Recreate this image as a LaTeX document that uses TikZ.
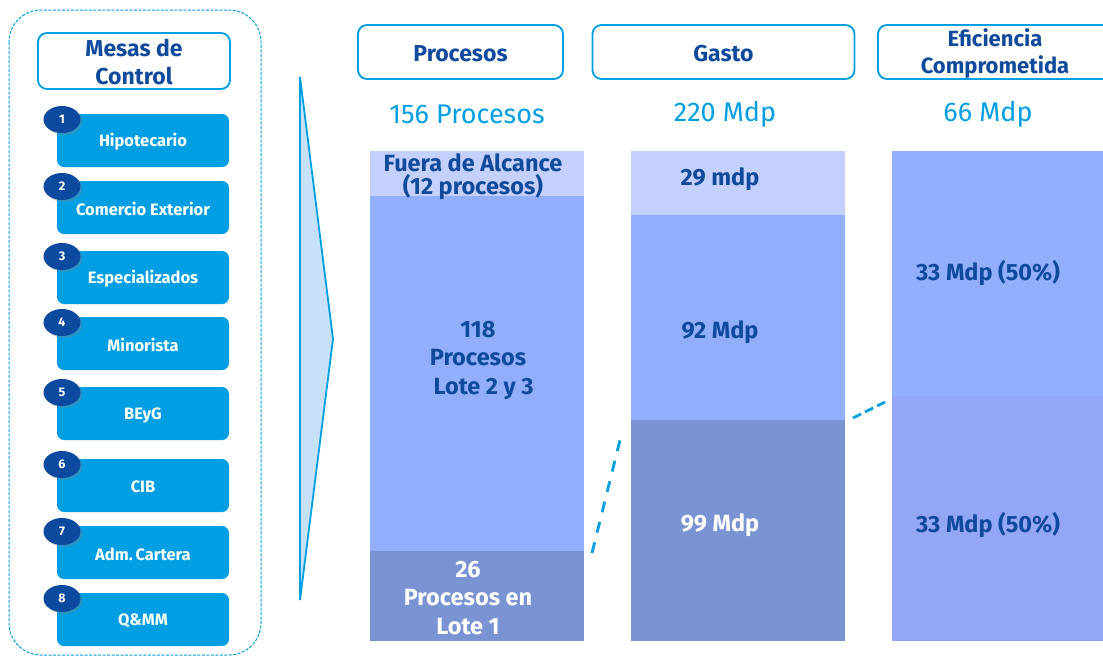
\documentclass[tikz,border=0pt]{standalone}
\usepackage{fontspec}
\setmainfont{Fira Sans}
\usetikzlibrary{shapes.geometric,shadows}
\definecolor{cyanb}{HTML}{009FE3}
\definecolor{navy}{HTML}{0B4A9E}
\definecolor{txtb}{HTML}{0F4A9C}
\definecolor{segL}{HTML}{C4D0FE}
\definecolor{segM}{HTML}{92AFFE}
\definecolor{segD}{HTML}{7A93D2}
\definecolor{segV}{HTML}{94A6F6}
\definecolor{arrowfill}{HTML}{C7E1F9}
\tikzset{
  mesa/.style={fill=cyanb, rounded corners=7pt, minimum width=172pt, minimum height=53pt, inner sep=0pt, text=white, font=\bfseries\fontsize{16.5}{18}\selectfont},
  badge/.style={ellipse, fill=navy, minimum width=37pt, minimum height=27pt, inner sep=0pt, text=white, font=\bfseries\fontsize{12.5}{13}\selectfont, drop shadow={shadow xshift=2pt, shadow yshift=-2pt, opacity=0.35}},
  header/.style={draw=cyanb, line width=1.8pt, rounded corners=9pt, fill=white, inner sep=0pt, text=txtb, font=\bfseries\fontsize{23}{25}\selectfont, align=center},
  total/.style={text=cyanb, font=\fontsize{27}{29}\selectfont},
  bartxt/.style={text=txtb, font=\bfseries\fontsize{23.5}{28.5}\selectfont, align=center},
  bartxtw/.style={text=white, font=\bfseries\fontsize{23.5}{28.5}\selectfont, align=center},
  linkA/.style={draw=cyanb, line width=2.8pt, dash pattern=on 11pt off 10pt},
  linkB/.style={draw=cyanb, line width=2.8pt, dash pattern=on 9pt off 4.5pt}
}
\begin{document}
\begin{tikzpicture}[x=1pt,y=-1pt]
\useasboundingbox (0,0) rectangle (1103,657);
\clip (0,0) rectangle (1103,657);
\fill[white] (0,0) rectangle (1103,657);
% outer dashed frame
\draw[cyanb, line width=1pt, dash pattern=on 3pt off 1.5pt, rounded corners=32pt] (9,10) rectangle (261,655);
% Mesas de Control header
\node[header, minimum width=192pt, minimum height=56pt] (mesas) at (134,61) {};
\node[text=txtb, font=\bfseries\fontsize{23}{28}\selectfont, align=center] (mesast) at (134,62) {Mesas de\\Control};
% boxes and badges
\foreach \n/\y/\t in {1/140.5/Hipotecario, 2/207.5/Comercio Exterior, 3/277.5/Especializados, 4/343.5/Minorista, 5/413.5/BEyG, 6/485.5/CIB, 7/552.5/Adm.\,Cartera, 8/619.5/Q\&MM}{
  \node[mesa] (box\n) at (143,\y) {};
  \node[text=white, font=\bfseries\fontsize{16.5}{18}\selectfont] (lbl\n) at (143,\y+1.5) {\t};
  \node[badge] (bd\n) at (62,\y-21) {\n};
}
% arrow
\draw[cyanb, line width=1.8pt, fill=arrowfill, line join=miter] (300,77) -- (333,339) -- (300,600) -- cycle;
% column headers
\node[header, minimum width=205pt, minimum height=54pt] (hproc) at (460.5,52) {};
\node[text=txtb, font=\bfseries\fontsize{23}{25}\selectfont] (hproct) at (460.5,54) {Procesos};
\node[header, minimum width=262pt, minimum height=54pt] (hgasto) at (723.5,52) {};
\node[text=txtb, font=\bfseries\fontsize{23}{25}\selectfont] (hgastot) at (723.5,54) {Gasto};
\node[header, minimum width=240pt, minimum height=54pt] (hefi) at (998,52) {};
\node[text=txtb, font=\bfseries\fontsize{22}{27}\selectfont, align=center] (hefit) at (995,54) {Eficiencia\\Comprometida};
% totals
\node[total] (tproc) at (467,114) {156 Procesos};
\node[total] (tgasto) at (725,114) {220 Mdp};
\node[total] (tefi) at (988,114) {66 Mdp};
% Procesos bar
\fill[segL] (370,151) rectangle (584,196);
\fill[segM] (370,196) rectangle (584,551);
\fill[segD] (370,551) rectangle (584,641);
\node[bartxt, font=\bfseries\fontsize{23.5}{23}\selectfont] (fuera) at (473,177) {Fuera de Alcance\\(12 procesos)};
\node[bartxt] (lote23) at (478,360) {118\\Procesos\\\ \ Lote 2 y 3};
\node[bartxtw] (lote1) at (468,598) {26\\Procesos en\\Lote 1};
% Gasto bar
\fill[segL] (631,151) rectangle (845,215);
\fill[segM] (631,215) rectangle (845,420);
\fill[segD] (631,420) rectangle (845,641);
\node[bartxt] (g29) at (720,179) {29 mdp};
\node[bartxt] (g92) at (720,332) {92 Mdp};
\node[bartxtw] (g99) at (720,525) {99 Mdp};
% Eficiencia bar
\fill[segM] (892,151) rectangle (1103,396);
\fill[segV] (892,396) rectangle (1103,641);
\node[bartxt] (e1) at (988,273) {33 Mdp (50\%)};
\node[bartxt] (e2) at (988,525) {33 Mdp (50\%)};
% dashed links
\coordinate (l1a) at (592,553);
\coordinate (l1b) at (622,432);
\coordinate (l2a) at (853,418);
\coordinate (l2b) at (885,402);
\draw[linkA] (l1a) -- (l1b);
\draw[linkB] (l2a) -- (l2b);
\end{tikzpicture}
\end{document}
